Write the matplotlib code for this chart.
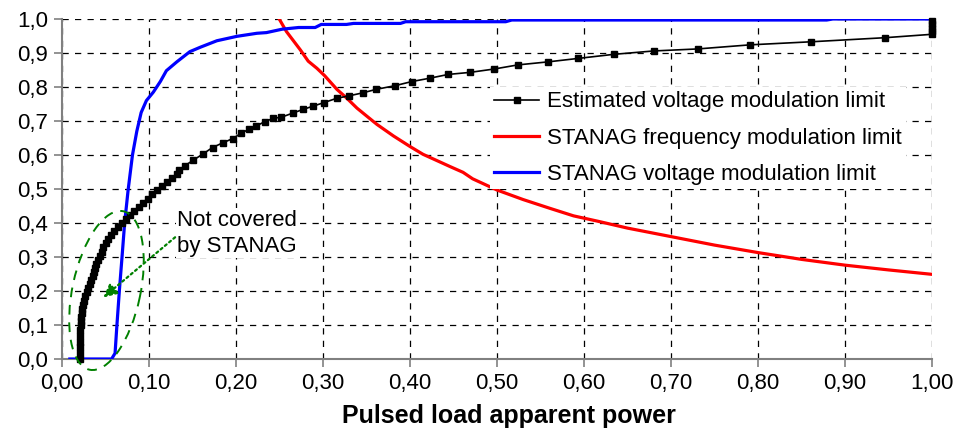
import matplotlib
matplotlib.use("Agg")
import matplotlib.pyplot as plt
import matplotlib.transforms as mtransforms
from matplotlib.patches import Ellipse
from matplotlib.ticker import FuncFormatter

plt.rcParams['font.family'] = ['Liberation Sans', 'DejaVu Sans']

# Estimated voltage modulation limit (one marker per computed point)
est_x = [0.0207, 0.0207, 0.0208, 0.0209, 0.0210, 0.0212, 0.0215, 0.0218, 0.0222, 0.0228,
         0.0235, 0.0245, 0.0257, 0.0270, 0.0285, 0.0300, 0.0317, 0.0335, 0.0353, 0.0365,
         0.0377, 0.0395, 0.0415, 0.0435, 0.0455, 0.0475, 0.0500, 0.0530, 0.0565, 0.0600,
         0.0640, 0.0690, 0.0735, 0.0780, 0.0830, 0.0880, 0.0930, 0.0985, 0.1040, 0.1095,
         0.1145, 0.1210, 0.1270, 0.1325, 0.1350, 0.1410, 0.151, 0.162, 0.173, 0.185,
         0.196, 0.206, 0.215, 0.223, 0.233, 0.243, 0.252, 0.265, 0.277, 0.289,
         0.301, 0.316, 0.330, 0.346, 0.361, 0.383, 0.402, 0.423, 0.444, 0.469,
         0.497, 0.524, 0.559, 0.593, 0.634, 0.680, 0.731, 0.791, 0.861, 0.946,
         1.0, 1.0, 1.0, 1.0, 1.0]
est_y = [0.000, 0.017, 0.034, 0.051, 0.068, 0.085, 0.100, 0.112, 0.124, 0.136,
         0.148, 0.160, 0.172, 0.184, 0.196, 0.208, 0.220, 0.232, 0.244, 0.256,
         0.268, 0.280, 0.292, 0.304, 0.316, 0.328, 0.340, 0.352, 0.364, 0.376,
         0.388, 0.400, 0.412, 0.424, 0.436, 0.448, 0.460, 0.472, 0.484, 0.496,
         0.508, 0.520, 0.532, 0.544, 0.556, 0.568, 0.585, 0.603, 0.622, 0.636,
         0.648, 0.664, 0.676, 0.685, 0.698, 0.708, 0.711, 0.723, 0.734, 0.744,
         0.754, 0.767, 0.774, 0.783, 0.793, 0.804, 0.816, 0.826, 0.837, 0.843,
         0.853, 0.865, 0.874, 0.884, 0.896, 0.906, 0.912, 0.924, 0.933, 0.945,
         0.955, 0.965, 0.975, 0.985, 0.995]

# STANAG frequency modulation limit
freq_x = [0.247, 0.258, 0.274, 0.283, 0.293, 0.302, 0.316, 0.327, 0.339, 0.350,
          0.362, 0.381, 0.400, 0.415, 0.434, 0.446, 0.461, 0.472, 0.500, 0.530,
          0.561, 0.588, 0.618, 0.650, 0.700, 0.750, 0.800, 0.850, 0.900, 0.950,
          1.000]
freq_y = [1.012, 0.963, 0.909, 0.876, 0.855, 0.833, 0.793, 0.768, 0.738, 0.715,
          0.690, 0.656, 0.625, 0.602, 0.580, 0.566, 0.549, 0.530, 0.497, 0.469,
          0.443, 0.421, 0.404, 0.385, 0.360, 0.335, 0.313, 0.293, 0.276, 0.262,
          0.249]

# STANAG voltage modulation limit
volt_x = [0.009, 0.057, 0.061, 0.063, 0.066, 0.069, 0.072, 0.076, 0.081, 0.086,
          0.091, 0.097, 0.105, 0.113, 0.120, 0.132, 0.147, 0.159, 0.178, 0.201,
          0.224, 0.235, 0.253, 0.272, 0.291, 0.298, 0.327, 0.335, 0.389, 0.395,
          0.510, 0.517, 0.879, 0.886, 1.000]
volt_y = [0.000, 0.000, 0.017, 0.095, 0.203, 0.300, 0.400, 0.497, 0.600, 0.670,
          0.725, 0.760, 0.785, 0.816, 0.848, 0.874, 0.904, 0.917, 0.936, 0.949,
          0.958, 0.960, 0.970, 0.975, 0.975, 0.984, 0.984, 0.987, 0.987, 0.992,
          0.992, 0.997, 0.997, 1.000, 1.000]

labels = ['Estimated voltage modulation limit',
          'STANAG frequency modulation limit',
          'STANAG voltage modulation limit']

fig = plt.figure(figsize=(9.59, 4.34), dpi=100)
ax = fig.add_axes([62 / 959, 75 / 434, 870 / 959, 340 / 434])

l1, = ax.plot(est_x, est_y, color='black', lw=1.2, marker='s', markersize=5,
              clip_on=False, zorder=4)
l2, = ax.plot(freq_x, freq_y, color='#ff0000', lw=2.3, zorder=3)
l3, = ax.plot(volt_x, volt_y, color='#0000ff', lw=2.3, zorder=3)

ax.set_xlim(0, 1)
ax.set_ylim(0, 1)
ax.set_xticks([i / 10 for i in range(11)])
ax.set_yticks([i / 10 for i in range(11)])
ax.xaxis.set_major_formatter(FuncFormatter(lambda v, p: f"{v:.2f}".replace('.', ',')))
ax.yaxis.set_major_formatter(FuncFormatter(lambda v, p: f"{v:.1f}".replace('.', ',')))
ax.tick_params(labelsize=16, length=6, width=1.2, color='#808080', pad=4)

ax.grid(True, color='black', lw=0.9, linestyle=(0, (5, 5)))
ax.set_axisbelow(True)
for side in ['top', 'right']:
    ax.spines[side].set_visible(False)
for side in ['left', 'bottom']:
    ax.spines[side].set_color('#808080')
    ax.spines[side].set_linewidth(1.5)

ax.set_xlabel('Pulsed load apparent power', fontsize=18, fontweight='bold', labelpad=7)
ax.xaxis.label.set_x(0.514)

leg = ax.legend([l1, l2, l3], labels, loc='upper left',
                bbox_to_anchor=((490 - 62) / 870, (359 - 87) / 340),
                fontsize=16, frameon=True, facecolor='white', edgecolor='none',
                framealpha=1, fancybox=False, borderaxespad=0, borderpad=0.2,
                handlelength=2.0, handletextpad=0.35, labelspacing=0.68)
leg.set_zorder(5)

# dashed ellipse round the area that STANAG does not cover
ell_trans = fig.dpi_scale_trans + mtransforms.ScaledTranslation(0.0511, 0.2015, ax.transData)
ell = Ellipse((0, 0), width=1.62, height=0.68, angle=78, transform=ell_trans,
              fill=False, edgecolor='#008000', lw=1.4, linestyle=(0, (5, 4)),
              clip_on=False, zorder=6)
ax.add_patch(ell)

ax.text(0.201, 0.370, 'Not covered\nby STANAG', fontsize=16, ha='center', va='center',
        linespacing=1.3, zorder=6,
        bbox=dict(facecolor='white', edgecolor='none', pad=1))
ax.annotate('', xy=(0.0475, 0.181), xytext=(0.130, 0.358),
            arrowprops=dict(arrowstyle='-|>', color='#008000', lw=1.6,
                            linestyle=(0, (1, 1.5)), mutation_scale=20,
                            shrinkA=0, shrinkB=0),
            zorder=7)

fig.savefig('out.png', dpi=100)
